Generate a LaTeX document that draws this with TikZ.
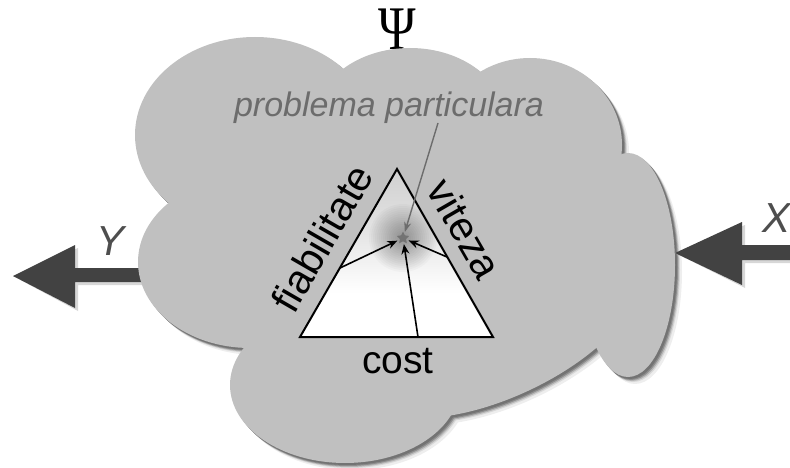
\documentclass[tikz,border=0pt]{standalone}
\usepackage{fontspec}
\setmainfont{Liberation Sans}
\newfontfamily\greekserif{Liberation Serif}
\usetikzlibrary{arrows.meta,shapes.geometric,calc}

\definecolor{cloudgray}{RGB}{192,192,192}
\definecolor{arrowgray}{RGB}{66,66,66}
\definecolor{notegray}{RGB}{108,108,108}
\definecolor{labelgray}{RGB}{78,78,78}
\definecolor{blobgray}{RGB}{115,115,115}
\definecolor{tritop}{RGB}{180,180,180}
\definecolor{trimid}{RGB}{226,226,226}
\definecolor{shadowA}{RGB}{238,238,238}
\definecolor{shadowB}{RGB}{215,215,215}
\definecolor{shadowC}{RGB}{180,180,180}
\definecolor{shadowD}{RGB}{140,140,140}
\definecolor{shadowE}{RGB}{115,115,115}

% white lower part, greying towards the apex
\pgfdeclareverticalshading{trishade}{100bp}{%
  color(0bp)=(white); color(38bp)=(white); color(58bp)=(trimid); color(100bp)=(tritop)}

% the cloud, built from overlapping ellipses and a core polygon
\newcommand\cloudparts[1]{%
  \fill[#1] (255,135) ellipse [x radius=120pt, y radius=98pt];
  \fill[#1] (410,120) ellipse [x radius=95pt, y radius=72pt];
  \fill[#1] (530,145) ellipse [x radius=92pt, y radius=87pt];
  \fill[#1] (628,265) ellipse [x radius=47pt, y radius=112pt];
  \fill[#1] (250,262) ellipse [x radius=112pt, y radius=86pt];
  \fill[#1] (345,385) ellipse [x radius=115pt, y radius=78pt];
  \fill[#1] (500,330) ellipse [x radius=151pt, y radius=67pt, rotate=25];
  \fill[#1] (348,72) -- (475,80) -- (605,160) -- (585,345) -- (455,402)
            -- (252,338) -- (170,203) -- cycle;
}

\tikzset{
  bigfont/.style={font=\fontsize{41}{41}\selectfont},
  psifont/.style={font=\greekserif\fontsize{62}{62}\selectfont},
  iofont/.style={font=\itshape\fontsize{42}{42}\selectfont},
  flow/.style={line width=1.6pt, black, -{Stealth[length=10pt,width=8pt]}},
  noteflow/.style={line width=1.4pt, notegray, -{Stealth[length=10pt,width=7pt]}},
}

\begin{document}
\begin{tikzpicture}[x=1pt,y=-1pt]
  \useasboundingbox (0,0) rectangle (790,468);

  % soft shadow under the cloud
  \cloudparts{shadowA, shift={(7,7)}}
  \cloudparts{shadowB, shift={(5,5)}}
  \cloudparts{shadowC, shift={(4,4)}}
  \cloudparts{shadowD, shift={(3,3)}}
  \cloudparts{shadowE, shift={(2,2)}}

  % output arrow Y (its shaft runs under the cloud)
  \coordinate (ytip) at (13,276);
  \fill[shadowB, shift={(3,3)}] (ytip) -- (75,245) -- (75,268) -- (150,268)
       -- (150,282) -- (75,282) -- (75,308) -- cycle;
  \fill[arrowgray] (ytip) -- (75,245) -- (75,268) -- (150,268)
       -- (150,282) -- (75,282) -- (75,308) -- cycle;

  % psi label; its stem runs into the cloud top
  \node[psifont, inner sep=0pt, xscale=0.82] (psi) at (397,29) {Ψ};

  % cloud body
  \cloudparts{cloudgray}

  % input arrow X
  \coordinate (xtip) at (675,253);
  \fill[shadowB, shift={(3,3)}] (xtip) -- (742,222) -- (742,245) -- (800,245)
       -- (800,260) -- (742,260) -- (742,285) -- cycle;
  \fill[arrowgray] (xtip) -- (742,222) -- (742,245) -- (800,245)
       -- (800,260) -- (742,260) -- (742,285) -- cycle;

  % labels of the arrows
  \node[iofont, text=labelgray] (ylab) at (111,241) {Y};
  \node[iofont, text=labelgray] (xlab) at (776,218) {X};

  % triangle of criteria
  \coordinate (tA) at (300,337);
  \coordinate (tB) at (493,337);
  \coordinate (tC) at (397,169);
  \shade[shading=trishade] (tA) -- (tB) -- (tC) -- cycle;

  \node[circle, minimum size=12pt, inner sep=0pt] (pp) at (403,238) {};
  \begin{scope}
    \clip (tA) -- (tB) -- (tC) -- cycle;
    \foreach \r in {34,32,...,6} \fill[black, opacity=0.022] (pp) circle (\r pt);
  \end{scope}

  \draw[line width=2pt, line join=miter] (tA) -- (tB) -- (tC) -- cycle;

  % paths from each side towards the particular problem
  \coordinate (fL) at (340,268);
  \coordinate (fR) at (447,257);
  \coordinate (fB) at (418,337);
  \draw[flow] (fL) -- (pp);
  \draw[flow] (fR) -- (pp);
  \draw[flow] (fB) -- (pp);
  \node[star, star points=5, star point ratio=2, fill=blobgray, minimum size=13pt, inner sep=0pt] at (pp) {};

  % side labels
  \node[bigfont, rotate=60] (fiab) at (322,238) {fiabilitate};
  \node[bigfont, rotate=-60] (vit) at (465,229) {viteza};
  \node[font=\fontsize{39}{39}\selectfont, anchor=base] (cost) at (398,373) {cost};

  % annotation
  \node[font=\itshape\fontsize{34}{34}\selectfont, text=notegray, anchor=base] (pl) at (389,117) {problema particulara};
  \coordinate (plfoot) at (438,123);
  \draw[noteflow] (plfoot) -- (pp);
\end{tikzpicture}
\end{document}
